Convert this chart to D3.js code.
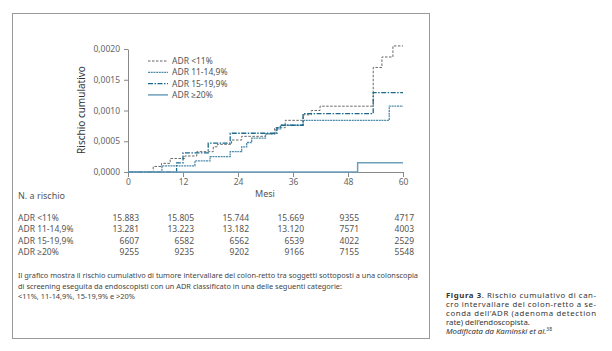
<!DOCTYPE html>
<html lang="it">
<head>
  <meta charset="UTF-8">
  <title>Rischio cumulativo per ADR</title>
  <style>
    body { margin: 0; background: #fff; }
    svg text { font-family: 'Noto Sans', 'Open Sans', sans-serif; fill: #555; }
    .axis path, .axis line { stroke: #888; }
    .axis text { font-size: 8.5px; fill: #666; }
  </style>
  <script src="https://d3js.org/d3.v7.min.js"></script>
</head>
<body>
  <svg id="chart" width="612" height="351"></svg>
  <script>
    // data (months, cumulative risk)
    const xTicks = [0, 12, 24, 36, 48, 60];
    const yTicks = [0, 0.0005, 0.001, 0.0015, 0.002];
    const labels = ["ADR <11%", "ADR 11-14,9%", "ADR 15-19,9%", "ADR \u226520%"];

    const adrLt11 = [[0,0],[5.5,0.00009],[7.3,0.00014],[9.2,0.00022],[12.4,0.00026],[15,0.00033],[18.6,0.00041],[19.5,0.00045],[22.6,0.00052],[24.8,0.00058],[30,0.00062],[32,0.00072],[34.3,0.00084],[38.2,0.00093],[40,0.001],[41.9,0.00107],[53.5,0.0017],[55.4,0.00187],[57.8,0.00205],[60,0.00205]];
    const adr11to14 = [[0,0],[7.4,0.0001],[14.6,0.00018],[17.9,0.00025],[22.3,0.00033],[24.8,0.00041],[25.9,0.00048],[27,0.00055],[30,0.00062],[32.3,0.0007],[33.3,0.00076],[38.2,0.00084],[57,0.00107],[60,0.00107]];
    const adr15to19 = [[0,0],[10.6,0.00015],[12,0.00031],[17.5,0.00047],[22.3,0.00063],[32.5,0.00072],[33.2,0.00076],[38.2,0.00095],[53.5,0.00129],[60,0.00129]];
    const adrGe20 = [[0,0],[50.1,0.00015],[60,0.00015]];

    // numbers at risk
    const riskLt11 = ["15.883", "15.805", "15.744", "15.669", "9355", "4717"];
    const risk11to14 = ["13.281", "13.223", "13.182", "13.120", "7571", "4003"];
    const risk15to19 = ["6607", "6582", "6562", "6539", "4022", "2529"];
    const riskGe20 = ["9255", "9235", "9202", "9166", "7155", "5548"];

    const series = [adrLt11, adr11to14, adr15to19, adrGe20];
    const risks = [riskLt11, risk11to14, risk15to19, riskGe20];
    const styles = [
      { color: "#666", dash: "2.5,1.5", width: 1 },
      { color: "#4f8cab", dash: "2,0.7", width: 1.3 },
      { color: "#1d6a8c", dash: "5,1.5,1.5,1.5", width: 1.3 },
      { color: "#6d9fbb", dash: null, width: 1.5 }
    ];

    const svg = d3.select("#chart");

    // frame around the figure
    svg.append("rect")
      .attr("x", 12.5).attr("y", 13.5)
      .attr("width", 417).attr("height", 325)
      .attr("fill", "none").attr("stroke", "#999").attr("stroke-width", 1);

    const x = d3.scaleLinear().domain([0, 60]).range([128, 403]);
    const y = d3.scaleLinear().domain([0, 0.002]).range([172, 49]);

    const fmt = d => d3.format(".4f")(d).replace(".", ",");

    svg.append("g")
      .attr("class", "axis")
      .attr("transform", "translate(128,0)")
      .call(d3.axisLeft(y).tickValues(yTicks).tickFormat(fmt).tickSize(4).tickSizeOuter(0))
      .call(g => g.selectAll("text").attr("dx", "-1"));

    svg.append("g")
      .attr("class", "axis")
      .attr("transform", "translate(0,172)")
      .call(d3.axisBottom(x).tickValues(xTicks).tickSize(5).tickSizeOuter(0))
      .call(g => g.selectAll("text").attr("dy", "0.55em"));

    svg.append("text")
      .attr("transform", "translate(85,110) rotate(-90)")
      .attr("text-anchor", "middle")
      .style("font-size", "10px").style("fill", "#333")
      .text("Rischio cumulativo");

    svg.append("text")
      .attr("x", 265).attr("y", 197)
      .attr("text-anchor", "middle")
      .style("font-size", "9px")
      .text("Mesi");

    const line = d3.line()
      .x(d => x(d[0]))
      .y(d => y(d[1]))
      .curve(d3.curveStepAfter);

    series.forEach((s, i) => {
      svg.append("path")
        .datum(s)
        .attr("d", line)
        .attr("fill", "none")
        .attr("stroke", styles[i].color)
        .attr("stroke-width", styles[i].width)
        .attr("stroke-dasharray", styles[i].dash);
    });

    // legend
    const legend = svg.append("g").attr("transform", "translate(148,61)");
    labels.forEach((lab, i) => {
      const row = legend.append("g").attr("transform", `translate(0,${i * 11.3})`);
      row.append("line")
        .attr("x1", 0).attr("x2", 20).attr("y1", 0).attr("y2", 0)
        .attr("stroke", styles[i].color)
        .attr("stroke-width", styles[i].width)
        .attr("stroke-dasharray", styles[i].dash);
      row.append("text")
        .attr("x", 24).attr("y", 3)
        .style("font-size", "8.5px")
        .text(lab);
    });

    // numbers at risk table
    svg.append("text")
      .attr("x", 18).attr("y", 199)
      .style("font-size", "9px")
      .text("N. a rischio");

    risks.forEach((row, i) => {
      const ry = 221 + i * 11.4;
      svg.append("text")
        .attr("x", 18).attr("y", ry)
        .style("font-size", "8.5px")
        .text(labels[i]);
      row.forEach((v, j) => {
        svg.append("text")
          .attr("x", x(xTicks[j]) + 11).attr("y", ry)
          .attr("text-anchor", "end")
          .style("font-size", "8.5px")
          .text(v);
      });
    });

    // description under the chart
    const desc = [
      "Il grafico mostra il rischio cumulativo di tumore intervallare del colon-retto tra soggetti sottoposti a una colonscopia",
      "di screening eseguita da endoscopisti con un ADR classificato in una delle seguenti categorie:",
      "<11%, 11-14,9%, 15-19,9% e >20%"
    ];
    const descLen = [400, 324, 117];
    desc.forEach((t, i) => {
      svg.append("text")
        .attr("x", 18).attr("y", 278 + i * 10.5)
        .attr("textLength", descLen[i])
        .attr("lengthAdjust", "spacingAndGlyphs")
        .style("font-size", "7.8px")
        .style("fill", "#444")
        .text(t);
    });

    // figure caption on the right
    const capLines = [
      ["Figura 3", ". Rischio cumulativo di can-"],
      ["", "cro intervallare del colon-retto a se-"],
      ["", "conda dell\u2019ADR (adenoma detection"],
      ["", "rate) dell\u2019endoscopista."],
      ["", "Modificata da Kaminski et al."]
    ];
    const capLen = [150, 150, 150, null, null];
    capLines.forEach((l, i) => {
      const t = svg.append("text")
        .attr("x", 446).attr("y", 298 + i * 9)
        .style("font-size", "7.8px")
        .style("fill", "#333");
      if (capLen[i]) t.attr("textLength", capLen[i]).attr("lengthAdjust", "spacing");
      if (l[0]) t.append("tspan").style("font-weight", "bold").style("fill", "#333").text(l[0]);
      const ts = t.append("tspan").style("fill", "#333").text(l[1]);
      if (i === 4) {
        ts.style("font-style", "italic");
        t.append("tspan").attr("dy", -3).style("font-size", "5px").style("fill", "#333").text("38");
      }
    });
  </script>
</body>
</html>
